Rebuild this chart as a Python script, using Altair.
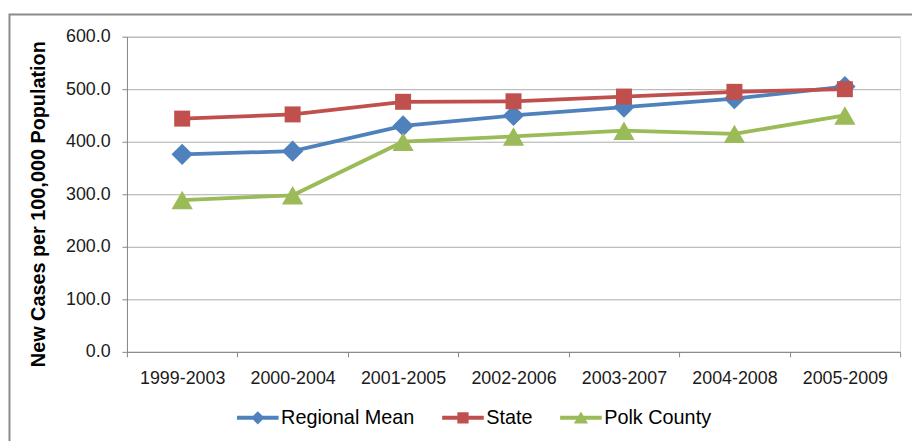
import altair as alt
import pandas as pd

categories = ["1999-2003", "2000-2004", "2001-2005", "2002-2006",
              "2003-2007", "2004-2008", "2005-2009"]
series_names = ["Regional Mean", "State", "Polk County"]
regional_mean = [376, 382, 430, 450, 466, 482, 505]
state = [444, 452, 476, 477, 486, 495, 500]
polk_county = [289, 298, 400, 410, 421, 415, 450]
y_ticks = [0, 100, 200, 300, 400, 500, 600]

colors = ["#4F81BD", "#C0504D", "#9BBB59"]
chart_shapes = ["diamond", "square", "triangle-up"]
marker_sizes = [460, 260, 460]
legend_shapes = [
    "M-1,-0.1L1,-0.1L1,0.1L-1,0.1Z M0,-0.32L0.32,0L0,0.32L-0.32,0Z",
    "M-1,-0.1L1,-0.1L1,0.1L-1,0.1Z M-0.27,-0.27L0.27,-0.27L0.27,0.27L-0.27,0.27Z",
    "M-1,-0.1L1,-0.1L1,0.1L-1,0.1Z M0,-0.3L0.34,0.28L-0.34,0.28Z",
]

rows = []
for name, vals in zip(series_names, [regional_mean, state, polk_county]):
    for c, v in zip(categories, vals):
        rows.append({"Period": c, "Series": name, "Value": v})
df = pd.DataFrame(rows)

FONT = "Liberation Sans"

x_enc = alt.X(
    "Period:N", sort=categories, title=None,
    scale=alt.Scale(paddingInner=0, paddingOuter=0),
    axis=alt.Axis(labelAngle=0, tickBand="extent", grid=False, tickSize=5,
                  labelPadding=12.5, labelFont=FONT, labelFontSize=18,
                  labelColor="#1a1a1a", domainColor="#868686",
                  tickColor="#868686", labelOverlap=False),
)
y_enc = alt.Y(
    "Value:Q",
    scale=alt.Scale(domain=[0, 600], nice=False),
    axis=alt.Axis(values=y_ticks, format=".1f", title="New Cases per 100,000 Population",
                  titleFont=FONT, titleFontSize=20, titleFontWeight="bold",
                  titleColor="#000000", titleAngle=270, titleBaseline="alphabetic",
                  titleX=-83, titleY=168.5, titleAlign="center",
                  labelFont=FONT, labelFontSize=18, labelColor="#1a1a1a",
                  labelPadding=12, tickSize=5, domainColor="#868686",
                  tickColor="#868686", gridColor="#ababab", gridWidth=1),
)

color_scale = alt.Scale(domain=series_names, range=colors)

border = alt.Chart(alt.Data(values=[{"a": 1}])).mark_rect(
    fill="transparent", stroke="#8a8a8a", strokeWidth=2
).encode(
    x=alt.value(-118.5), x2=alt.value(820),
    y=alt.value(-22.3), y2=alt.value(520),
)

lines = alt.Chart(df).mark_line(strokeWidth=3.8).encode(
    x=x_enc, y=y_enc,
    color=alt.Color("Series:N", scale=color_scale, legend=None),
    detail="Series:N",
)

point_layers = []
for name, col, shp, sz in zip(series_names, colors, chart_shapes, marker_sizes):
    point_layers.append(
        alt.Chart(df).transform_filter(alt.datum.Series == name).mark_point(
            filled=True, opacity=1, strokeWidth=0, shape=shp, size=sz, color=col
        ).encode(x=x_enc, y=y_enc)
    )

legend_kw = dict(
    title=None, orient="none", legendX=111, legendY=363.5, direction="horizontal",
    labelFont=FONT, labelFontSize=20, labelColor="#000000", labelOffset=2.5,
    columnPadding=27, symbolSize=1764, symbolStrokeWidth=0, padding=0,
    symbolOpacity=1,
)

legend_layer = alt.Chart(df).mark_point(filled=True, size=1764, strokeWidth=0,
                                        opacity=1).encode(
    x=x_enc, y=y_enc,
    color=alt.Color("Series:N", scale=alt.Scale(domain=series_names, range=colors),
                    legend=alt.Legend(**legend_kw)),
    shape=alt.Shape("Series:N", scale=alt.Scale(domain=series_names, range=legend_shapes),
                    legend=alt.Legend(**legend_kw)),
).transform_filter("false")

chart = alt.layer(border, lines, *point_layers, legend_layer).resolve_scale(
    color="independent", shape="independent"
).properties(
    width=780, height=318,
    autosize=alt.AutoSizeParams(type="none"),
    padding={"left": 120, "top": 27, "right": 12, "bottom": 88},
).configure_view(stroke=None).configure(background="white")

chart.save("out.html", embed_options={"renderer": "svg", "actions": False})
